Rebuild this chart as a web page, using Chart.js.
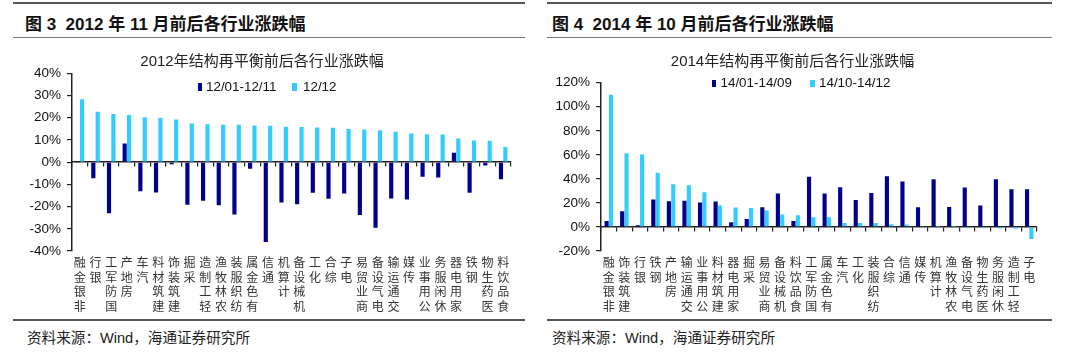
<!DOCTYPE html>
<html>
<head>
<meta charset="utf-8">
<script src="https://cdn.jsdelivr.net/npm/chart.js@4.4.1/dist/chart.umd.min.js"></script>
<style>
  body { margin: 0; width: 1080px; height: 352px; background: #fff; position: relative; overflow: hidden;
         font-family: "Liberation Sans", Arial, "Noto Sans CJK SC", sans-serif; }
  .rule { position: absolute; height: 2px; background: #555; }
  .rule.thin { height: 1.5px; background: #777; }
  .head { position: absolute; top: 10px; font-size: 17px; font-weight: bold; color: #111; white-space: nowrap; }
  .src { position: absolute; top: 326px; font-size: 14.6px; color: #222; white-space: nowrap;
         font-family: "Liberation Sans", Arial, "Noto Sans CJK SC", sans-serif; }
  .box { position: absolute; top: 40px; height: 278px; }
  .lg { position: absolute; font-size: 13.4px; color: #111; white-space: nowrap; line-height: 16px; }
  .sw { position: absolute; width: 4.5px; height: 7.5px; }
</style>
</head>
<body>

<!-- left panel -->
<div class="rule" style="left:13px;width:512px;top:2px"></div>
<div class="head" style="left:25px">图 3&nbsp; 2012 年 11 月前后各行业涨跌幅</div>
<div class="rule thin" style="left:13px;width:512px;top:36.5px"></div>
<div class="box" style="left:13px;width:514px"><canvas id="c2012" width="514" height="278"></canvas></div>
<span class="sw" style="left:197.5px;top:83.3px;background:#00008b"></span>
<span class="lg" style="left:206px;top:79px">12/01-12/11</span>
<span class="sw" style="left:292.3px;top:83.3px;background:#33ccff"></span>
<span class="lg" style="left:303px;top:79px">12/12</span>
<div class="rule" style="left:13px;width:512px;top:319px"></div>
<div class="src" style="left:27px">资料来源：Wind，海通证券研究所</div>

<!-- right panel -->
<div class="rule" style="left:547px;width:505px;top:2px"></div>
<div class="head" style="left:552px">图 4&nbsp; 2014 年 10 月前后各行业涨跌幅</div>
<div class="rule thin" style="left:547px;width:505px;top:36.5px"></div>
<div class="box" style="left:548px;width:505px"><canvas id="c2014" width="505" height="278"></canvas></div>
<span class="sw" style="left:711.7px;top:79.5px;background:#00008b"></span>
<span class="lg" style="left:720.5px;top:75.3px">14/01-14/09</span>
<span class="sw" style="left:810px;top:79.5px;background:#33ccff"></span>
<span class="lg" style="left:819px;top:75.3px">14/10-14/12</span>
<div class="rule" style="left:547px;width:505px;top:318.5px"></div>
<div class="src" style="left:552px">资料来源：Wind，海通证券研究所</div>

<script>
// 2012 chart data (%)
const cats2012 = ['非银金融','银行','国防军工','房地产','汽车','建筑材料','建筑装饰','采掘','轻工制造','农林牧渔',
  '纺织服装','有色金属','通信','计算机','机械设备','化工','综合','电子','商业贸易','电气设备',
  '交通运输','传媒','公用事业','休闲服务','家用电器','钢铁','医药生物','食品饮料'];
const ret2012a = [-0.2, -7.2, -23.0, 8.4, -13.1, -13.7, -1.0, -19.2, -17.4, -19.4,
  -23.6, -3.0, -35.9, -18.2, -18.9, -13.8, -16.5, -14.1, -23.8, -29.5,
  -16.4, -16.8, -6.6, -6.9, 4.2, -13.8, -1.5, -7.7];
const ret2012b = [28.3, 22.7, 21.7, 21.2, 20.2, 20.0, 19.2, 17.4, 17.1, 16.8,
  16.8, 16.5, 16.4, 15.9, 15.8, 15.6, 15.5, 14.9, 14.7, 14.4,
  13.7, 12.9, 12.6, 12.5, 10.7, 9.8, 9.6, 6.8];
const series2012 = ['12/01-12/11', '12/12'];
const yTicks2012 = [-40, 40, 10]; // min, max, step

// 2014 chart data (%)
const cats2014 = ['非银金融','建筑装饰','银行','钢铁','房地产','交通运输','公用事业','建筑材料','家用电器','采掘',
  '商业贸易','机械设备','食品饮料','国防军工','有色金属','汽车','化工','纺织服装','综合','通信',
  '传媒','计算机','农林牧渔','电气设备','医药生物','休闲服务','轻工制造','电子'];
const ret2014a = [5.0, 13.1, 1.4, 22.8, 21.4, 21.9, 20.3, 21.1, 3.9, 6.7,
  16.4, 27.8, 5.0, 41.7, 27.8, 33.1, 22.5, 28.3, 42.2, 37.8,
  16.4, 39.7, 16.7, 32.8, 17.8, 39.7, 31.4, 31.4];
const ret2014b = [110, 61.4, 60.3, 45.0, 35.6, 34.7, 28.9, 17.8, 16.1, 15.8,
  13.6, 10.3, 9.7, 8.1, 8.1, 3.3, 3.3, 3.3, 2.2, 1.9,
  0.3, 0.2, 0.2, -1.0, -1.0, -1.2, -1.5, -10.0];
const series2014 = ['14/01-14/09', '14/10-14/12'];
const yTicks2014 = [-20, 120, 20];

const DARK = '#00008b', LIGHT = '#33ccff', AXIS = '#222';
Chart.defaults.font.family = '"Liberation Sans", Arial, sans-serif';

// vertical labels: characters stacked, read bottom-up, hung from the axis
function stack(name) { return name.split('').reverse(); }

function makeChart(id, cats, a, b, names, yt, opt) {
  new Chart(document.getElementById(id), {
    type: 'bar',
    data: {
      labels: cats.map(stack),
      datasets: [
        { label: names[0], data: a, backgroundColor: DARK, categoryPercentage: 0.56, barPercentage: 0.95 },
        { label: names[1], data: b, backgroundColor: LIGHT, categoryPercentage: 0.56, barPercentage: 0.95 }
      ]
    },
    options: {
      responsive: false,
      animation: false,
      layout: { padding: { left: 0, right: opt.right, top: 0, bottom: 0 } },
      plugins: {
        legend: { display: false },
        tooltip: { enabled: false },
        title: {
          display: true, text: opt.title, color: '#222',
          font: { size: 15, weight: 'normal', family: '"Liberation Sans", "Noto Sans CJK SC", sans-serif', lineHeight: 1.2 },
          padding: { top: 13, bottom: opt.titleGap }
        }
      },
      scales: {
        x: {
          grid: { display: false, drawTicks: false },
          border: { display: false },
          ticks: {
            autoSkip: false, maxRotation: 0, minRotation: 0, padding: 4, color: '#333',
            font: { size: 12, family: '"Noto Sans CJK SC", sans-serif', lineHeight: 1.22 }
          },
          afterFit: s => { s.height = 67; }
        },
        // zero line with category tick marks
        x2: {
          axis: 'x', type: 'category', position: { y: 0 }, offset: true,
          grid: { offset: true, drawOnChartArea: false, drawTicks: true, tickLength: 4, color: AXIS, lineWidth: 1.2 },
          border: { color: AXIS, width: 1.5 },
          ticks: { display: false }
        },
        y: {
          min: yt[0], max: yt[1],
          ticks: { stepSize: yt[2], callback: v => v + '%', color: '#111', font: { size: 13.5 }, padding: 6 },
          grid: { drawOnChartArea: false, drawTicks: true, tickLength: 5, color: AXIS, lineWidth: 1.2 },
          border: { color: AXIS, width: 1.5 },
          afterFit: s => { s.width = opt.yWidth; }
        }
      }
    }
  });
}

makeChart('c2012', cats2012, ret2012a, ret2012b, series2012, yTicks2012,
  { title: '2012年结构再平衡前后各行业涨跌幅', titleGap: 2.3, right: 16, yWidth: 59 });
makeChart('c2014', cats2014, ret2014a, ret2014b, series2014, yTicks2014,
  { title: '2014年结构再平衡前后各行业涨跌幅', titleGap: 11.7, right: 16, yWidth: 53 });
</script>
</body>
</html>
